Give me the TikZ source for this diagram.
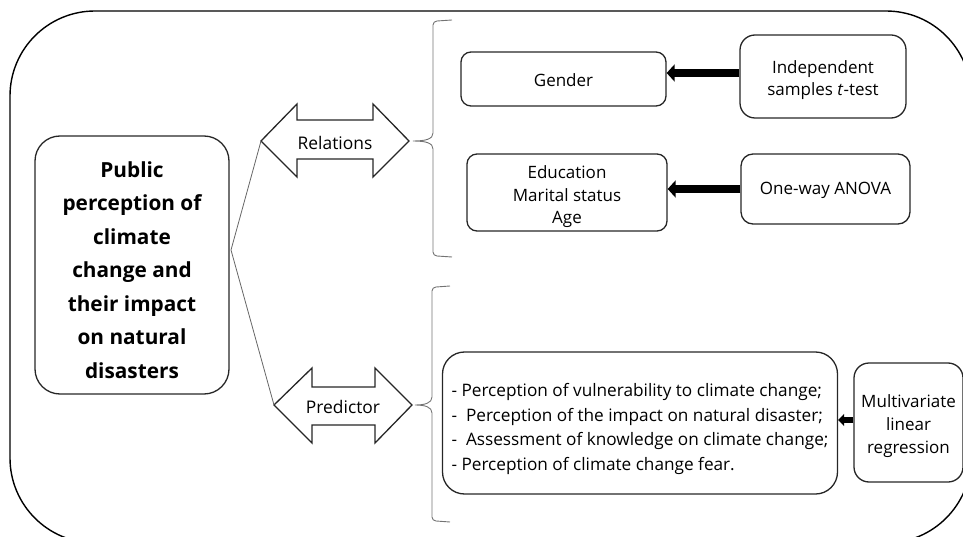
\documentclass[tikz,border=0pt]{standalone}
\usepackage{fontspec}
\setmainfont{Open Sans}
\usetikzlibrary{arrows.meta}
\newcommand{\topgap}[1]{\rule{0pt}{#1pt}}
\begin{document}
\begin{tikzpicture}[x=1pt,y=-1pt,
  box/.style={draw=black!85,line width=1.3pt,rounded corners=#1,align=center,inner sep=0pt,text=black,font=\fontsize{17}{22.5}\selectfont},
  box/.default=10pt,
  dbl/.style={draw=black!85,line width=1.3pt,fill=white,line join=miter},
  lbl/.style={inner sep=0pt,text=black,font=\fontsize{17.4}{20}\selectfont},
  thin/.style={draw=black!60,line width=0.8pt},
  brace/.style={draw=black!55,line width=0.9pt},
  fatarrow/.style={line width=8pt,-{Triangle[length=8pt,width=17pt]}},
  midarrow/.style={line width=6pt,-{Triangle[length=6pt,width=12pt]}}
]
\useasboundingbox (0,0) rectangle (963,537);
\begin{scope}
\clip (0,0) rectangle (963,537);
\draw[line width=1.4pt,rounded corners=85pt] (10,11) rectangle (971,543);
\end{scope}

% main box
\node[box=25pt,minimum width=194pt,minimum height=258pt,font=\fontsize{20.8}{33.5}\bfseries\selectfont] (main) at (132,265)
 {\topgap{26}Public\\perception of\\climate\\change and\\their impact\\on natural\\disasters};

% double arrows
\coordinate (relL) at (261,141);
\coordinate (relR) at (409,141);
\draw[dbl] (relL) -- (297,104) -- (297,120) -- (373,120) -- (373,104) -- (relR) -- (373,177) -- (373,159) -- (297,159) -- (297,177) -- cycle;
\node[lbl] (rel) at (335,142.5) {Relations};

\coordinate (predL) at (274,405);
\coordinate (predR) at (412,405);
\draw[dbl] (predL) -- (312,368) -- (312,387) -- (375,387) -- (375,368) -- (predR) -- (375,443) -- (375,425) -- (312,425) -- (312,443) -- cycle;
\node[lbl] (pred) at (343,406.5) {Predictor};

% connector lines
\coordinate (hub) at (231,250);
\draw[thin] (relL) -- (hub) -- (predL);

% braces
\draw[brace] (452,20) -- (437,21) to[out=180,in=90] (433,25) -- (433,133)
  .. controls (433,139) and (426,141) .. (413,141)
  .. controls (426,141) and (433,143) .. (433,149) -- (433,252)
  to[out=-90,in=180] (437,256) -- (452,257);
\draw[brace] (450,286) -- (436,287) to[out=180,in=90] (432,291) -- (432,397)
  .. controls (432,403) and (425,405) .. (415,405)
  .. controls (425,405) and (432,407) .. (432,413) -- (432,517)
  to[out=-90,in=180] (436,521) -- (450,522);

% right boxes
\node[box=10pt,minimum width=205pt,minimum height=54pt] (gender) at (563.5,79) {\topgap{15}Gender};
\node[box=15pt,minimum width=166pt,minimum height=83pt,font=\fontsize{17}{22}\selectfont] (indep) at (823,76.5) {\topgap{21}Independent\\samples \textit{t}-test};
\node[box=10pt,minimum width=200pt,minimum height=77pt] (edu) at (567,192.5) {\topgap{22}Education\\Marital status\\Age};
\node[box=12pt,minimum width=169pt,minimum height=70pt] (anova) at (825.5,189) {\topgap{15}One-way ANOVA};
\node[box=22pt,minimum width=395pt,minimum height=142pt,align=left,font=\fontsize{17.2}{24.5}\selectfont] (list) at (640,423)
 {\topgap{25}- Perception of vulnerability to climate change;\\
  -\ \ Perception of the impact on natural disaster;\\
  -\ \ Assessment of knowledge on climate change;\\
  - Perception of climate change fear.};
\node[box=15pt,minimum width=109pt,minimum height=119pt,font=\fontsize{17}{23}\selectfont] (multi) at (908.5,422.5) {\topgap{21}Multivariate\\linear\\regression};

% arrows
\draw[fatarrow] ([yshift=3.5pt]indep.west) -- ([yshift=3.5pt]indep.west -| gender.east);
\draw[fatarrow] (anova.west) -- (anova.west -| edu.east);
\draw[midarrow] ([yshift=2.5pt]multi.west) -- ([yshift=2.5pt]multi.west -| list.east);
\end{tikzpicture}
\end{document}
